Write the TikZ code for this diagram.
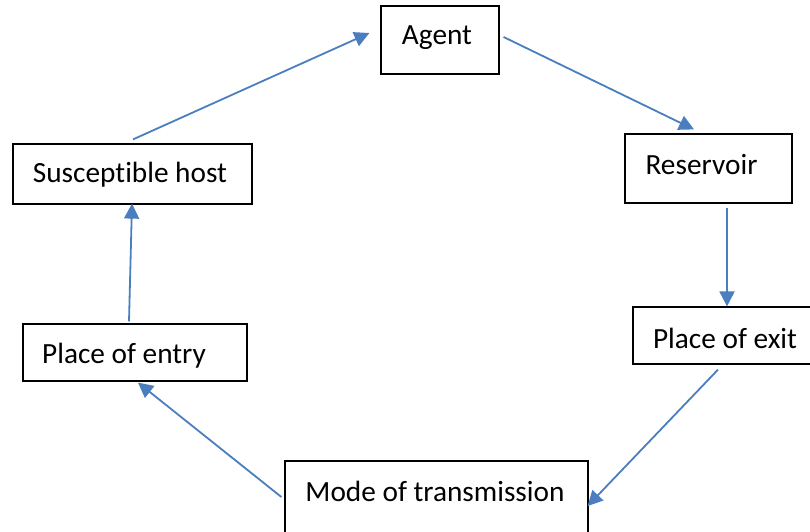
\documentclass[tikz,border=0pt]{standalone}
\usepackage{fontspec}
\setmainfont[Ligatures=NoCommon]{Carlito}
\usetikzlibrary{arrows.meta,calc}
\definecolor{arrowblue}{RGB}{74,126,190}
\begin{document}
\begin{tikzpicture}[x=1pt,y=-1pt,
  box/.style={draw=black,line width=1.2pt,fill=white,inner sep=0pt},
  txt/.style={inner sep=0pt,font=\fontsize{29.3}{35}\selectfont},
  conn/.style={draw=arrowblue,line width=1.8pt,-{Triangle[length=15pt,width=15pt]}}]
\useasboundingbox (0,0) rectangle (810,531);
% boxes
\node[box,minimum width=118pt,minimum height=68pt] (agent) at (440,40) {};
\node[txt] (agentT) at (437,38) {Agent};
\node[box,minimum width=167pt,minimum height=69pt] (res) at (708.5,168.5) {};
\node[txt] (resT) at (701.5,165) {Reservoir};
\node[box,minimum width=179pt,minimum height=57pt] (exit) at (722.5,335.5) {};
\node[txt] (exitT) at (725,338) {Place of exit};
\node[box,minimum width=303pt,minimum height=84pt] (mode) at (436.5,503) {};
\node[txt] (modeT) at (435,491) {Mode of transmission};
\node[box,minimum width=224pt,minimum height=57pt] (entry) at (135,352.5) {};
\node[txt] (entryT) at (124,356) {Place of entry};
\node[box,minimum width=239pt,minimum height=60pt] (sus) at (132.5,174) {};
\node[txt] (susT) at (130,175) {Susceptible host};
% connectors
\draw[conn] ($(sus.north)+(0.5,-4)$) -- ($(agent.west)+(-11,-7)$);
\draw[conn] ($(agent.east)+(4,-3)$) -- ($(res.north)+(-14.5,-4)$);
\draw[conn] ($(res.south)+(18.5,4)$) -- ($(exit.north)+(4.5,0)$);
\draw[conn] ($(exit.south)+(-4.5,5)$) -- ($(mode.east)+(-1,3)$);
\draw[conn] ($(mode.west)+(-3,-6)$) -- ($(entry.south)+(3,1)$);
\draw[conn] ($(entry.north)+(-6,-2)$) -- ($(sus.south)+(-0.5,-1)$);
\end{tikzpicture}
\end{document}
